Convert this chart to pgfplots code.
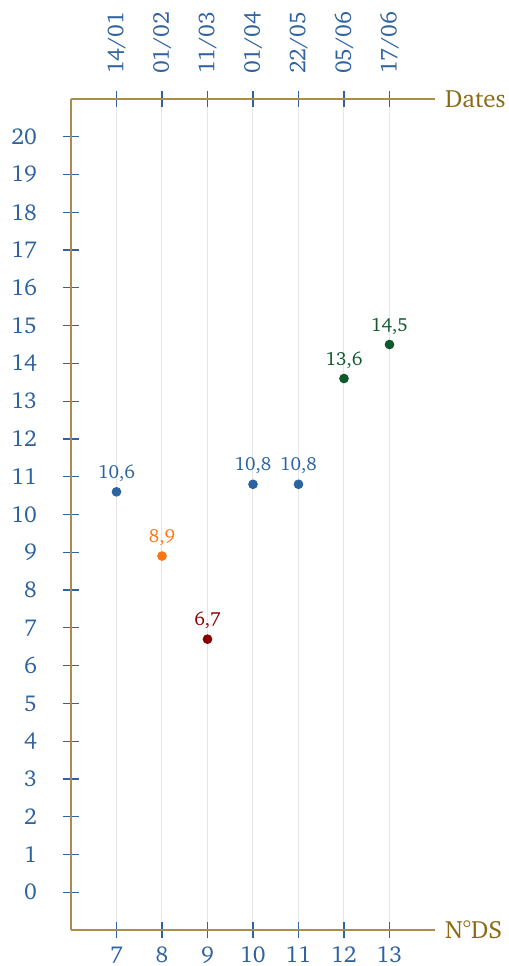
\documentclass[border=0pt]{standalone}
\usepackage[T1]{fontenc}
\usepackage{charter}
\usepackage{pgfplots}
\pgfplotsset{compat=1.18}
\definecolor{tickblue}{HTML}{2E62A0}
\definecolor{axiscol}{HTML}{A88D4F}
\definecolor{labcol}{HTML}{8C6A14}
\definecolor{ptblue}{HTML}{2B63A0}
\definecolor{ptorange}{HTML}{FF7410}
\definecolor{ptred}{HTML}{8B0000}
\definecolor{ptgreen}{HTML}{0E5A2C}
\pgfplotsset{
  common/.style={
    scale only axis, width=182pt, height=415.5pt,
    xmin=6, xmax=14, ymin=-1, ymax=21,
    xtick={7,...,13},
    tick align=center,
    major tick length=8pt,
    tick style={tickblue, line width=0.6pt},
    axis line style={axiscol, line width=0.7pt},
    /pgf/number format/assume math mode=true,
    ticklabel style={tickblue, font=\fontsize{11.5}{13}\selectfont},
    clip=false,
  }
}
\pgfplotstableread{
x y lab
7 10.6 10,6
10 10.8 10,8
11 10.8 10,8
}\blueT
\pgfplotstableread{
x y lab
8 8.9 8,9
}\orangeT
\pgfplotstableread{
x y lab
9 6.7 6,7
}\redT
\pgfplotstableread{
x y lab
12 13.6 13,6
13 14.5 14,5
}\greenT
\begin{document}
\begin{tikzpicture}
\useasboundingbox (-35.5pt,-18pt) rectangle (219pt,465pt);
\begin{axis}[common,
  axis x line*=bottom, axis y line*=left,
  ytick={0,...,20},
  xmajorgrids, grid style={black!10, line width=0.5pt},
  xticklabel shift=1pt,
  yticklabel shift=9.5pt,
  xlabel={N\textdegree{}DS},
  every axis x label/.style={at={(rel axis cs:1,0)}, anchor=west, xshift=1.5pt,
     text=labcol, font=\fontsize{12.5}{14}\selectfont},
  nodes near coords,
  point meta=explicit symbolic,
  every node near coord/.append style={font=\fontsize{9.5}{11}\selectfont, anchor=south, yshift=1.5pt},
]
\addplot[only marks, mark=*, mark size=2.2pt, color=ptblue, nodes near coords style={text=ptblue}] table[x=x, y=y, meta=lab] {\blueT};
\addplot[only marks, mark=*, mark size=2.2pt, color=ptorange, nodes near coords style={text=ptorange}] table[x=x, y=y, meta=lab] {\orangeT};
\addplot[only marks, mark=*, mark size=2.2pt, color=ptred, nodes near coords style={text=ptred}] table[x=x, y=y, meta=lab] {\redT};
\addplot[only marks, mark=*, mark size=2.2pt, color=ptgreen, nodes near coords style={text=ptgreen}] table[x=x, y=y, meta=lab] {\greenT};
\end{axis}
\begin{axis}[common,
  axis x line*=top, axis y line=none,
  ytick=\empty,
  xticklabels={14/01,01/02,11/03,01/04,22/05,05/06,17/06},
  xticklabel style={rotate=90, anchor=west},
  xticklabel shift=5pt,
  xlabel={Dates},
  every axis x label/.style={at={(rel axis cs:1,1)}, anchor=west, xshift=1.5pt,
     text=labcol, font=\fontsize{12.5}{14}\selectfont},
]
\addplot[draw=none] coordinates {(7,0)};
\end{axis}
\end{tikzpicture}
\end{document}
